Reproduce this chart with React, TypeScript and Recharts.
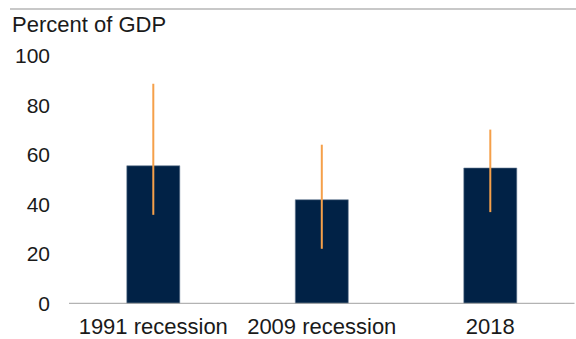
import { Bar, BarChart, ErrorBar, XAxis, YAxis } from "recharts";

const categories = ["1991 recession", "2009 recession", "2018"];
const shares = [55.5, 41.8, 54.6];
const rangeLow = [35.7, 22.0, 36.8];
const rangeHigh = [88.6, 64.0, 70.1];
const yTicks = [0, 20, 40, 60, 80, 100];

const FONT = "'Liberation Sans', Arial, sans-serif";

// ErrorBar wants offsets from the bar value, not absolute bounds
const data = categories.map((name, i) => ({
  name,
  share: shares[i],
  err: [shares[i] - rangeLow[i], rangeHigh[i] - shares[i]],
}));

export default function App() {
  return (
    <div style={{ position: "absolute", left: 0, top: 0, width: 576, height: 339, background: "#fff" }}>
      <svg width={576} height={339} style={{ position: "absolute", left: 0, top: 0 }}>
        <line x1={10} x2={576} y1={9} y2={9} stroke="#c8c8c8" strokeWidth={2} />
        <text x={12} y={31.5} fontSize={22} fontFamily={FONT} fill="#1a1a1a">
          Percent of GDP
        </text>
      </svg>
      <BarChart
        width={576}
        height={339}
        data={data}
        margin={{ top: 55.5, right: 1.5, left: 0, bottom: 0 }}
        barCategoryGap="34.3%"
        style={{ position: "absolute", left: 0, top: 0 }}
      >
        <XAxis
          dataKey="name"
          height={35.7}
          tickLine={false}
          tickSize={0}
          tickMargin={15}
          axisLine={{ stroke: "#a0a0a0", strokeWidth: 1 }}
          tick={{ fontSize: 22, fontFamily: FONT, fill: "#1a1a1a" }}
          interval={0}
        />
        <YAxis
          width={69}
          domain={[0, 100]}
          ticks={yTicks}
          axisLine={false}
          tickLine={false}
          tickSize={0}
          tickMargin={19}
          tick={{ fontSize: 21, fontFamily: FONT, fill: "#1a1a1a" }}
        />
        <Bar dataKey="share" fill="#012246" stroke="#6a7d96" strokeWidth={0.6} isAnimationActive={false}>
          <ErrorBar dataKey="err" width={0} stroke="#f5a04a" strokeWidth={2} />
        </Bar>
      </BarChart>
    </div>
  );
}
